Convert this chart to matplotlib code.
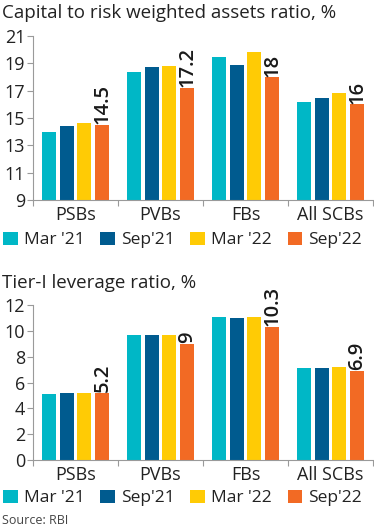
import numpy as np
import matplotlib.pyplot as plt
from matplotlib.patches import Patch
from matplotlib.ticker import FixedLocator

plt.rcParams['font.family'] = ['Open Sans', 'DejaVu Sans']

categories = ['PSBs', 'PVBs', 'FBs', 'All SCBs']
periods = ["Mar '21", "Sep'21", "Mar '22", "Sep'22"]
colors = ['#00B7C6', '#005B8F', '#FFCB05', '#F26A24']

# capital to risk weighted assets ratio, %
crar = {
    "Mar '21": [14.0, 18.4, 19.5, 16.2],
    "Sep'21": [14.4, 18.7, 18.9, 16.5],
    "Mar '22": [14.6, 18.8, 19.8, 16.8],
    "Sep'22": [14.5, 17.2, 18.0, 16.0],
}
crar_ticks = [9, 11, 13, 15, 17, 19, 21]

# tier-I leverage ratio, %
lev = {
    "Mar '21": [5.1, 9.7, 11.1, 7.1],
    "Sep'21": [5.15, 9.7, 11.0, 7.15],
    "Mar '22": [5.2, 9.7, 11.05, 7.2],
    "Sep'22": [5.2, 9.0, 10.3, 6.9],
}
lev_ticks = [0, 2, 4, 6, 8, 10, 12]

W, H = 374, 530
fig = plt.figure(figsize=(W / 100, H / 100), dpi=100)


def px_axes(left, top, right, bottom):
    return fig.add_axes([left / W, 1 - bottom / H, (right - left) / W, (bottom - top) / H])


def draw(ax, data, ticks, fmt):
    x = np.arange(len(categories))
    bw = 0.165
    step = 0.205
    for i, p in enumerate(periods):
        xs = x + (i - 1.5) * step
        ax.bar(xs, data[p], width=bw, color=colors[i], zorder=2)
        if i == len(periods) - 1:
            for xx, v in zip(xs, data[p]):
                ax.text(xx + 0.01, v + (ticks[-1] - ticks[0]) * 0.003, fmt(v), rotation=90,
                        ha='center', va='bottom', fontsize=14.5, fontweight='semibold',
                        color='#1a1a1a')
    ax.set_xlim(-0.5, len(categories) - 0.5)
    ax.set_ylim(ticks[0], ticks[-1])
    ax.set_yticks(ticks)
    ax.set_xticks(x)
    ax.set_xticklabels(categories)
    ax.xaxis.set_minor_locator(FixedLocator(np.arange(-0.5, len(categories), 1)))
    ax.tick_params(axis='x', which='major', length=0, pad=4, labelsize=13, labelcolor='#222222')
    ax.tick_params(axis='x', which='minor', length=4, color='#9a9a9a', width=0.8)
    ax.tick_params(axis='y', length=4, color='#9a9a9a', width=0.8, labelsize=13,
                   labelcolor='#222222', pad=1.5)
    for s in ['top', 'right']:
        ax.spines[s].set_visible(False)
    for s in ['left', 'bottom']:
        ax.spines[s].set_color('#9a9a9a')
        ax.spines[s].set_linewidth(0.8)


def fmt_num(v):
    return f"{v:g}"


ax1 = px_axes(33, 36, 373, 200)
draw(ax1, crar, crar_ticks, fmt_num)
ax2 = px_axes(33, 305, 373, 460)
draw(ax2, lev, lev_ticks, fmt_num)

fig.text(2 / W, 1 - 13 / H, 'Capital to risk weighted assets ratio, %', fontsize=13.5,
         va='center', ha='left', color='#222222')
fig.text(2 / W, 1 - 283 / H, 'Tier-I leverage ratio, %', fontsize=13.5,
         va='center', ha='left', color='#222222')
fig.text(2 / W, 1 - 520 / H, 'Source: RBI', fontsize=9, va='center', ha='left',
         color='#444444')

handles = [Patch(facecolor=c, edgecolor='none') for c in colors]
for yc in [240, 498]:
    fig.legend(handles, periods, loc='center left', bbox_to_anchor=(3 / W, 1 - yc / H),
               ncol=4, frameon=False, fontsize=12.5, handlelength=0.85, handleheight=0.85,
               handletextpad=0.35, columnspacing=0.9, borderaxespad=0, borderpad=0,
               labelcolor='#222222')

fig.savefig('out.png', dpi=100)
